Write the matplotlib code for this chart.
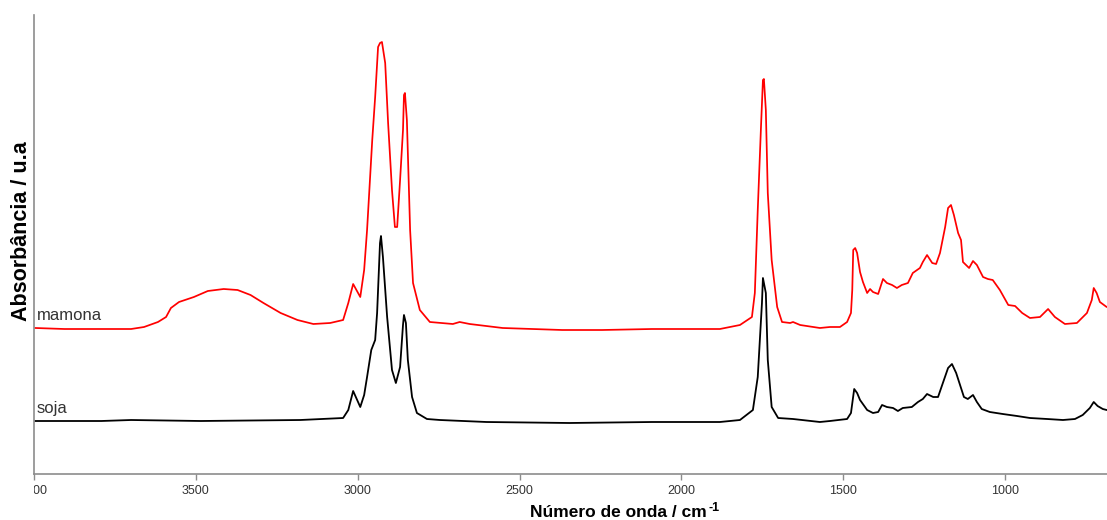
import matplotlib
matplotlib.use("Agg")
import matplotlib.pyplot as plt
from matplotlib.transforms import Bbox, TransformedBbox

# ---- data (wavenumber / cm-1, absorbance in arbitrary units incl. vertical offset) ----
mamona_wn = [3996, 3906, 3700, 3660, 3617, 3592, 3577, 3552, 3506, 3463, 3414, 3371, 3331,
             3291, 3238, 3186, 3137, 3085, 3045, 3029, 3014, 2992, 2980, 2971, 2955, 2946,
             2937, 2931, 2925, 2915, 2906, 2894, 2885, 2878, 2869, 2860, 2857, 2854, 2848,
             2838, 2829, 2808, 2777, 2706, 2685, 2654, 2552, 2368, 2245, 2091,
             1881, 1819, 1782, 1773, 1764, 1754, 1748, 1745, 1739, 1733, 1721, 1704, 1689,
             1664, 1655, 1633, 1572, 1541, 1510, 1488, 1476, 1472, 1469, 1463, 1457, 1448,
             1439, 1426, 1417, 1408, 1392, 1377, 1365, 1349, 1334, 1319, 1300, 1285, 1263,
             1254, 1241, 1225, 1213, 1201, 1185, 1176, 1167, 1158, 1145, 1136, 1130, 1111,
             1099, 1087, 1068, 1053, 1038, 1016, 990, 969, 947, 923, 892, 867, 846, 815,
             778, 747, 732, 726, 717, 707, 686, 684]
mamona_abs = [1.46, 1.45, 1.45, 1.47, 1.52, 1.57, 1.66, 1.72, 1.77, 1.83, 1.85, 1.84, 1.79,
              1.71, 1.61, 1.54, 1.50, 1.51, 1.54, 1.71, 1.90, 1.77, 2.04, 2.44, 3.34, 3.77,
              4.27, 4.31, 4.32, 4.11, 3.51, 2.84, 2.47, 2.47, 2.94, 3.44, 3.79, 3.81, 3.54,
              2.44, 1.91, 1.64, 1.52, 1.50, 1.52, 1.50, 1.46, 1.44, 1.44, 1.45,
              1.45, 1.49, 1.57, 1.81, 2.64, 3.47, 3.94, 3.95, 3.64, 2.81, 2.14, 1.67, 1.52,
              1.51, 1.52, 1.49, 1.46, 1.47, 1.47, 1.52, 1.61, 1.84, 2.24, 2.26, 2.21, 2.02,
              1.92, 1.81, 1.85, 1.82, 1.80, 1.95, 1.91, 1.89, 1.86, 1.89, 1.91, 2.01, 2.06,
              2.12, 2.19, 2.11, 2.10, 2.21, 2.47, 2.66, 2.69, 2.59, 2.41, 2.34, 2.12, 2.06,
              2.13, 2.09, 1.97, 1.95, 1.94, 1.84, 1.69, 1.68, 1.61, 1.56, 1.57, 1.65, 1.57, 1.50,
              1.51, 1.61, 1.74, 1.86, 1.81, 1.72, 1.67, 1.67]

soja_wn = [3996, 3792, 3700, 3485, 3177, 3045, 3029, 3014, 2992, 2980, 2971, 2958, 2946,
           2940, 2931, 2928, 2922, 2909, 2894, 2882, 2869, 2860, 2857, 2851, 2845, 2832,
           2817, 2786, 2746, 2602, 2346, 2091,
           1881, 1819, 1779, 1764, 1751, 1748, 1739, 1733, 1721, 1701, 1655, 1572, 1541,
           1488, 1476, 1466, 1457, 1448, 1426, 1408, 1392, 1380, 1365, 1346, 1331, 1316,
           1288, 1269, 1254, 1241, 1222, 1207, 1191, 1176, 1164, 1151, 1139, 1127, 1115,
           1099, 1087, 1072, 1047, 1007, 963, 923, 870, 821, 784, 760, 738, 726, 714, 698,
           686, 684]
soja_abs = [0.53, 0.53, 0.54, 0.53, 0.54, 0.56, 0.64, 0.83, 0.67, 0.79, 0.97, 1.24, 1.34,
            1.61, 2.31, 2.38, 2.17, 1.57, 1.04, 0.91, 1.07, 1.49, 1.59, 1.51, 1.14, 0.77,
            0.61, 0.55, 0.54, 0.52, 0.51, 0.52,
            0.52, 0.54, 0.64, 0.97, 1.71, 1.96, 1.81, 1.14, 0.67, 0.56, 0.55, 0.52, 0.53,
            0.55, 0.61, 0.85, 0.81, 0.74, 0.64, 0.61, 0.62, 0.69, 0.67, 0.66, 0.63, 0.66,
            0.67, 0.72, 0.75, 0.80, 0.77, 0.77, 0.92, 1.06, 1.10, 1.01, 0.89, 0.77, 0.75,
            0.79, 0.72, 0.65, 0.62, 0.60, 0.58, 0.56, 0.55, 0.54, 0.55, 0.59, 0.66, 0.72,
            0.68, 0.65, 0.64, 0.64]

series_names = ["mamona", "soja"]
x_ticks = [4000, 3500, 3000, 2500, 2000, 1500, 1000]

plt.rcParams["font.family"] = ["Liberation Sans", "DejaVu Sans"]

fig = plt.figure(figsize=(11.07, 5.20), dpi=100)
ax = fig.add_axes([34 / 1107, 46 / 520, 1073 / 1107, 459 / 520])

ax.plot(mamona_wn, mamona_abs, color="#ff0000", lw=1.25, solid_joinstyle="round")
ax.plot(soja_wn, soja_abs, color="#000000", lw=1.3, solid_joinstyle="round")

ax.set_xlim(4000, 685)
ax.set_ylim(0, 4.59)

ax.text(3991, 1.58, series_names[0], fontsize=12, color="#333333", ha="left", va="center")
ax.text(3991, 0.66, series_names[1], fontsize=12, color="#333333", ha="left", va="center")

for s in ["top", "right"]:
    ax.spines[s].set_visible(False)
for s in ["left", "bottom"]:
    ax.spines[s].set_color("#8c8c8c")
    ax.spines[s].set_linewidth(1.2)

ax.set_yticks([])
ax.set_xticks(x_ticks)
ax.set_xticklabels([str(t) for t in x_ticks])
ax.tick_params(axis="x", direction="out", length=4, width=1, color="#8c8c8c",
               labelsize=9, labelcolor="#333333", pad=4)

# the leftmost tick label is cut at the axis edge, as in the reference
clip = TransformedBbox(Bbox.from_extents(0, -1, 1.2, 1), ax.transAxes)
for lbl in ax.get_xticklabels():
    lbl.set_clip_box(clip)
    lbl.set_clip_on(True)

xl = ax.set_xlabel("Número de onda / cm", fontsize=12.5, fontweight="bold")
xl.set_verticalalignment("baseline")
ax.xaxis.set_label_coords(0.545, -0.094)
ax.set_ylabel("Absorbância / u.a", fontsize=15.5, fontweight="bold")
ax.yaxis.set_label_coords(-0.002, 0.53)

# superscript "-1" right after "cm"
fig.canvas.draw()
bb = xl.get_window_extent(renderer=fig.canvas.get_renderer())
fig.text((bb.x1 + 1) / fig.bbox.width, (520 - 511) / 520, "-1", fontsize=9,
         fontweight="bold", ha="left", va="baseline")

fig.savefig("out.png", dpi=100)
